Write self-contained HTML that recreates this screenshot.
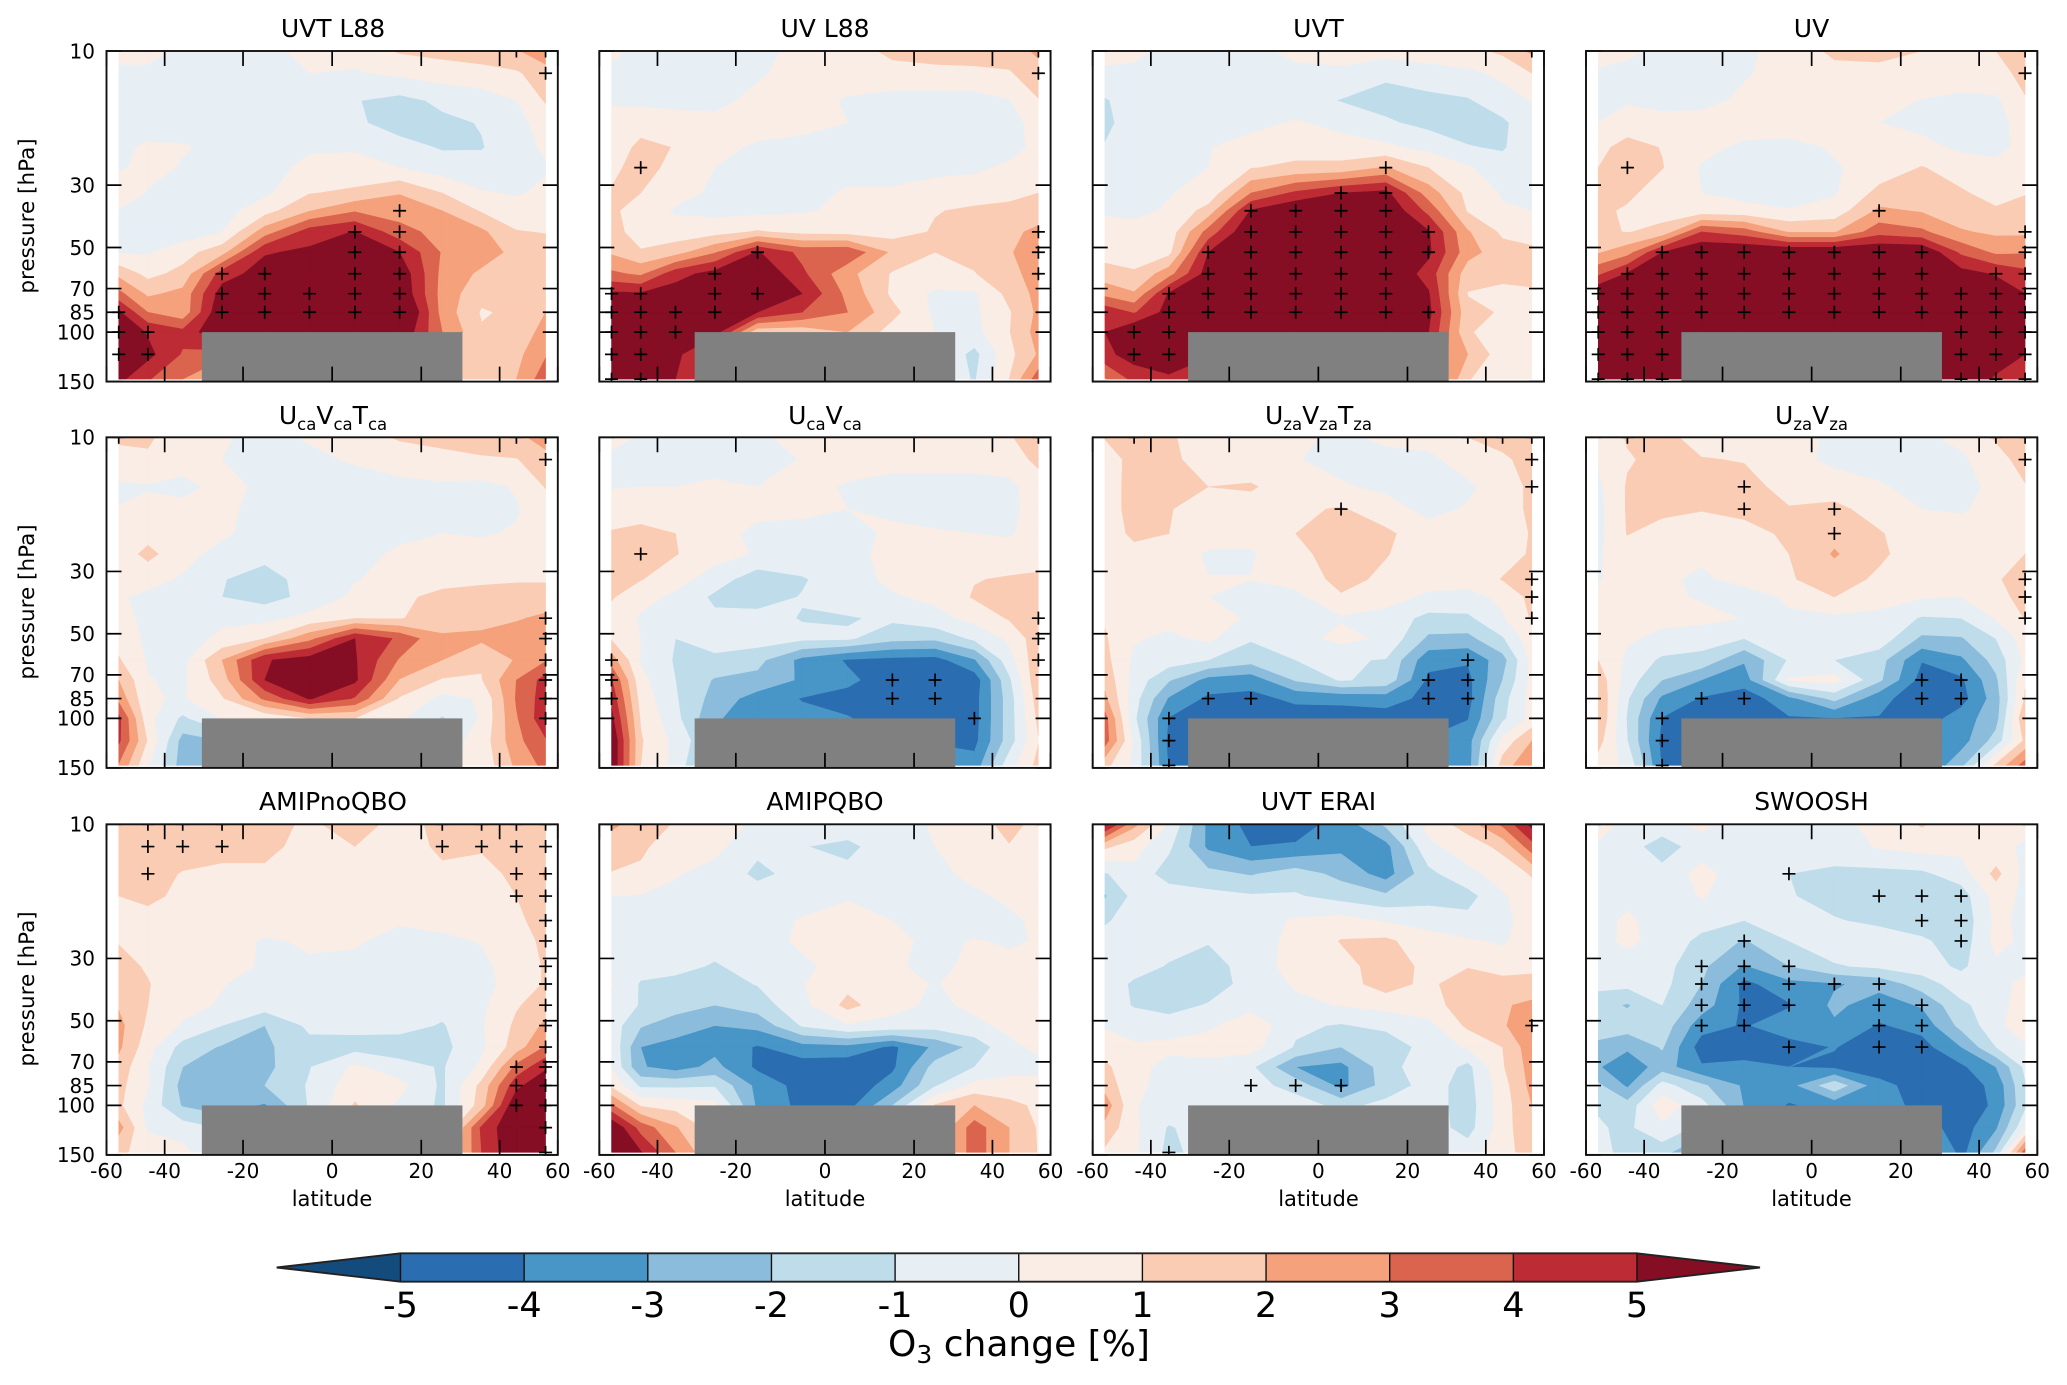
<!DOCTYPE html>
<html lang="en">
<head>
<meta charset="utf-8">
<title>O3 change panels</title>
<style>
html,body{margin:0;padding:0;background:#fff;}
svg{display:block;}
text{font-family:"DejaVu Sans","Liberation Sans",sans-serif;fill:#000;}
</style>
</head>
<body>
<svg id="fig" xmlns="http://www.w3.org/2000/svg" width="2067" height="1385" viewBox="0 0 2067 1385">
<rect x="0" y="0" width="2067" height="1385" fill="#fff"/>
<g id="panels"></g>
<g font-size="25" text-anchor="middle">
<text x="333" y="37">UVT L88</text>
<text x="825" y="37">UV L88</text>
<text x="1318.5" y="37">UVT</text>
<text x="1811.5" y="37">UV</text>
<text x="333" y="424">U<tspan font-size="16.5" dy="6">ca</tspan><tspan dy="-6">V</tspan><tspan font-size="16.5" dy="6">ca</tspan><tspan dy="-6">T</tspan><tspan font-size="16.5" dy="6">ca</tspan></text>
<text x="825" y="424">U<tspan font-size="16.5" dy="6">ca</tspan><tspan dy="-6">V</tspan><tspan font-size="16.5" dy="6">ca</tspan></text>
<text x="1318.5" y="424">U<tspan font-size="16.5" dy="6">za</tspan><tspan dy="-6">V</tspan><tspan font-size="16.5" dy="6">za</tspan><tspan dy="-6">T</tspan><tspan font-size="16.5" dy="6">za</tspan></text>
<text x="1811.5" y="424">U<tspan font-size="16.5" dy="6">za</tspan><tspan dy="-6">V</tspan><tspan font-size="16.5" dy="6">za</tspan></text>
<text x="333" y="810">AMIPnoQBO</text>
<text x="825" y="810">AMIPQBO</text>
<text x="1318.5" y="810">UVT ERAI</text>
<text x="1811.5" y="810">SWOOSH</text>
</g>
<g font-size="21" text-anchor="middle">
<text transform="translate(34,216) rotate(-90)" font-size="21.5">pressure [hPa]</text>
<text transform="translate(34,602) rotate(-90)" font-size="21.5">pressure [hPa]</text>
<text transform="translate(34,989) rotate(-90)" font-size="21.5">pressure [hPa]</text>
<text x="332" y="1206">latitude</text>
<text x="825" y="1206">latitude</text>
<text x="1318.5" y="1206">latitude</text>
<text x="1811.5" y="1206">latitude</text>
</g>
<g id="colorbar"></g>
<text x="1019" y="1356" font-size="36" text-anchor="middle">O<tspan font-size="25" dy="7">3</tspan><tspan dy="-7"> change [%]</tspan></text>
</svg>
<script>
const latitudes = [-55,-45,-35,-25,-15,-5,5,15,25,35,45,55];
const pressureLevels = [10,12,15,18,22,26,32,37,44,52,62,73,85,100,120,147];
const xTickValues = [-60,-40,-20,0,20,40,60];
const yTickValues = [10,30,50,70,85,100,150];
const contourLevels = [-5,-4,-3,-2,-1,0,1,2,3,4,5];
const bandColors = ["#134b7d","#2a6eb1","#4895c7","#8bbcdc","#bfdcea","#e7eff5","#f9ede5","#fbccb4","#f4a17c","#db644f","#bd2b34","#850e24"];

const uvtL88 = [
[0.3,0.3,-0.2,-0.3,-0.3,0.3,0.4,1.1,1.3,1.5,1.9,2.6],
[-0.2,-0.2,-0.4,-0.4,-0.4,0,-0.1,0.2,0.5,0.65,0.85,1.6],
[-0.4,-0.5,-0.5,-0.5,-0.6,-0.6,-0.95,-1.3,-0.8,-0.5,0,1.1],
[-0.6,-0.7,-0.6,-0.6,-0.6,-0.7,-0.8,-1.5,-1.2,-0.95,-0.3,0.4],
[-0.3,0.2,0.1,-0.3,-0.5,-0.1,-0.1,-0.6,-1.1,-1.05,-0.5,0.2],
[-0.2,0.4,-0.1,-0.3,-0.3,0.2,0.3,0,-0.5,-0.7,-0.5,-0.1],
[0.95,-0.1,-0.3,-0.3,-0.2,0.95,1.2,1.95,1,0.1,-0.1,0.2],
[-0.1,-0.6,-0.6,-0.4,0.6,1.95,2.9,2.5,2,0.9,0.45,0.5],
[-0.1,-0.7,-0.6,0,2.5,4.5,5.05,3.4,2.6,2.2,1.05,0.95],
[-0.1,-0.1,0.6,1.6,4.9,5.2,6,5,2.9,2.5,1.7,1.5],
[1.7,0.7,1.3,4.5,5.5,6,7,5.8,2.7,1.8,1.5,1.4],
[3.3,1.8,2.3,5.5,6,7,7,6,2.6,1.3,1.3,1.3],
[5.2,3,2.3,6,7,7,7,7,2.6,0.9,1.2,2],
[6,4.9,4.3,6,7,7,7,6,3,1.1,1.3,2.4],
[7,5.3,3.9,3.5,4,5,5,4,2,1.2,1.7,2.9],
[5.3,4.1,3,1.1,1,1,1,1,1.2,1.05,2,3.6]];
const uvL88 = [
[0.2,-0.2,-0.3,-0.3,-0.2,0.2,0.6,1.2,1.3,1.4,1.5,2.2],
[-0.2,-0.4,-0.4,-0.4,-0.1,0.3,0.5,0.7,0.8,0.8,0.9,1.6],
[-0.1,-0.2,-0.3,-0.2,0.2,0.4,-0.1,-0.4,-0.5,-0.4,-0.05,0.95],
[0.3,0.5,0.4,0.2,0.3,0.3,0,-0.4,-0.5,-0.5,-0.4,0.4],
[0.3,1.3,0.95,0.2,-0.1,-0.3,-0.3,-0.4,-0.5,-0.5,-0.4,0.3],
[0.7,1.5,0.6,0,-0.3,-0.3,-0.3,-0.3,-0.2,-0.2,0.2,0.3],
[1.1,1,0.3,-0.15,-0.3,-0.3,0.1,0.1,0.3,0.6,0.8,1],
[1.2,0.5,-0.1,-0.3,-0.3,-0.1,0.2,0.4,0.95,1.15,1.2,1.3],
[1.4,0.5,0.4,0.6,1.1,0.7,0.6,0.55,1.1,1.4,1.7,2.3],
[1.85,1.1,1.6,2.9,5.1,3.7,3.8,1.8,1,1.3,1.9,2.6],
[3.2,2.8,4.6,5.4,6,4.2,2.3,0.9,0.8,0.95,1.7,2.4],
[5.2,5.1,5.5,6,6,5,2.7,0.8,-0.2,-0.15,1.3,2.3],
[6,6,6,6,5,4,3,1.3,-0.2,-0.2,0.9,2.2],
[6,6,6,5.5,1.3,1.3,2,0.6,0,-0.3,0.95,2.4],
[6,6,5.4,3,1,1,1,0.5,0,-1.3,0.7,2.1],
[6,6,5,4,0.9,0.5,0.5,0.3,-0.1,-1.1,1,3.6]];
const uvt = [
[0.2,0.2,-0.2,-0.3,-0.2,0.2,0.4,0.4,0.5,0.7,1.2,2.2],
[-0.1,-0.2,-0.3,-0.4,-0.4,-0.2,-0.2,-0.8,-0.4,-0.2,0.2,1],
[-1.1,-0.5,-0.5,-0.5,-0.5,-0.6,-1.05,-1.4,-1.3,-1.1,-0.4,0.05],
[-1.2,-0.6,-0.5,-0.4,-0.3,0.1,-0.3,-0.85,-1.3,-1.4,-1.2,-0.3],
[-0.95,-0.5,-0.5,-0.05,0.4,0.6,0.4,0.2,-0.3,-0.95,-1.1,-0.4],
[-0.5,-0.4,-0.3,0,0.95,1.2,1.3,2.1,1,0.1,-0.6,-0.4],
[-0.4,-0.5,-0.05,0.3,3,4.2,5,5.3,2.5,0.7,-0.1,-0.3],
[-0.1,-0.2,0.1,1.4,5.1,6,6,6,3.7,0.9,0.1,0],
[0.3,0.3,0.4,3.4,6,6,6,6,5.1,2.1,0.8,0.6],
[0.6,0.6,0.7,5,6,6,6,6,5.2,2.4,1.4,1.2],
[1.4,1.1,2.6,5.5,6,6,6,6,4.6,1.4,1.1,1.1],
[2.7,2.1,5.1,6,6,6,6,6,5.1,0.95,0.9,0.95],
[4.7,3.9,5.4,6,6,6,6,6,5.3,1.3,0.9,0.8],
[5,6,5.5,6,6,6,6,6,5,1.1,0.5,0.7],
[4.7,5.5,5.4,5.3,6,6,6,6,4,2,0.4,0.5],
[2.9,4.3,4.9,3,4,5,5,5,4.5,1.1,0,0.3]];
const uvOnly = [
[0.3,0.2,-0.2,-0.3,-0.2,0.4,1.2,1.2,1,1,1,1.5],
[-0.1,-0.3,-0.4,-0.4,-0.1,0.4,0.7,0.8,0.8,0.7,0.75,1.2],
[-0.2,-0.1,-0.4,-0.3,0.2,0.4,0.5,0.4,-0.05,-0.3,-0.2,0.95],
[0,0.4,0.4,0.4,0.5,0.5,0.4,0,-0.3,-0.4,-0.4,0.5],
[0.7,1.4,0.95,0.3,-0.2,-0.3,0.1,0.5,0.3,-0.2,-0.3,0.3],
[1,1.5,1.05,-0.1,-0.4,-0.4,-0.1,0.4,1.05,0.6,0.3,0.4],
[1.3,1.3,0.3,0,-0.3,-0.4,-0.1,1.3,1.5,1.1,0.7,0.95],
[1.3,0.8,0.6,0.4,0.3,0.05,0.4,2.2,1.9,1.4,1.1,1.3],
[1.2,0.95,1.3,4,3.5,1.9,1.9,3.6,3.2,2.1,1.8,1.8],
[1.9,2.6,5,6,6,6,6,6,6,3.8,2.8,2.9],
[3.8,5.1,6,6,6,6,6,6,6,5.4,4.9,4.3],
[6,6,6,6,6,6,6,6,6,6,5.7,5],
[7,7,7,7,7,7,7,7,7,6,6,6],
[7,7,7,7,7,7,7,7,7,6,6,6],
[7,7,7,7,7,7,7,7,7,6,5.4,5],
[6,6,6,6,5,5,5,5,5,5.5,4.9,4.2]];
const ucaVcaTca = [
[1.1,1.1,0.6,0.1,-0.3,0.1,0.6,1.1,1.2,1.4,1.7,2.5],
[0.8,0.9,0.45,0,-0.2,-0.2,0.1,0.5,0.8,0.9,0.95,1.6],
[-0.2,-0.1,-0.3,0.3,-0.2,-0.3,-0.4,-0.3,-0.2,-0.3,0.1,1.05],
[0.05,0.3,0.3,0.2,-0.3,-0.4,-0.5,-0.5,-0.5,-0.4,-0.1,0.6],
[0.3,0.6,0.4,0.15,-0.4,-0.5,-0.4,-0.3,0,-0.1,0.1,0.5],
[0.4,1.3,0.3,-0.3,-0.7,-0.5,-0.4,0.2,0.4,0.4,0.4,0.5],
[0.4,0.3,-0.1,-0.95,-1.4,-0.6,-0.05,0.3,0.5,0.8,0.9,0.9],
[0.1,-0.2,-0.3,-1,-1.4,-0.7,0.2,0.7,1.4,1.4,1.4,1.4],
[0.4,-0.3,-0.3,-0.2,-0.3,0.3,0.95,0.9,1.7,1.7,1.9,2.2],
[0.6,-0.2,-0.4,0.2,1,2.7,5,3.8,2.1,2.2,2.5,2.6],
[1.1,-0.1,-0.3,2,4.9,5.5,5.1,2.9,2,1.1,2.1,2.9],
[2,0.05,-0.2,1.5,5,5.9,5.2,1.95,0.9,0.95,3,4.4],
[2.7,0.1,-0.1,0.9,3.2,5.1,3.9,0.9,-0.3,0.1,3.1,4.5],
[4.3,0.3,-1.2,0.1,0.2,1,1,0.2,-1.1,0.1,2.9,4.7],
[4.2,0.9,-2.4,-2,0,0,0,0,-0.5,0.4,2.7,3.9],
[2.9,0.1,-2.5,-3.2,-2,0,0,0,-0.3,0.3,2.2,3.3]];
const ucaVca = [
[0.3,-0.1,-0.3,-0.3,-0.1,0.2,0.4,0.5,0.5,0.6,0.9,1.6],
[-0.2,-0.4,-0.4,-0.5,-0.4,0.05,0.4,0.4,0.5,0.5,0.6,1.2],
[-0.05,0,0,0.2,0,0.3,-0.1,-0.4,-0.5,-0.5,-0.3,0.6],
[0.4,0.5,0.5,0.4,0.2,0.2,0,-0.1,-0.4,-0.5,-0.3,0.5],
[1.1,1.3,1,0.3,-0.2,-0.3,-0.2,0.1,0.1,0,-0.1,0.4],
[1.2,1.4,1.05,0.4,-0.1,-0.3,-0.3,0.3,0.4,0.4,0.4,0.5],
[1.3,1.05,0.4,-0.5,-1.6,-1.1,-0.4,0.2,0.6,0.95,1.1,1.2],
[1.1,0.3,-0.2,-1.2,-1.4,-0.95,-0.3,-0.1,0.2,1.1,1.3,1.3],
[0.6,-0.1,-0.4,-0.8,-0.7,-1.05,-1.1,-0.8,-0.3,0.3,1.1,1.7],
[0.9,0,-1,-0.6,-0.5,-0.8,-0.85,-1.7,-1.8,-0.8,0.2,1.6],
[2.5,-0.1,-1.1,-1.2,-1.7,-3.3,-4.1,-4.3,-4.4,-3.1,-0.4,1.7],
[4.1,0.3,-1,-2.1,-2.3,-3.15,-3.8,-4.5,-4.6,-4.6,-1.2,1.8],
[4.7,0.6,-0.9,-2.4,-3.45,-4.05,-4.3,-4.5,-4.6,-4.4,-1.5,1.5],
[5.3,0.9,-0.7,-2.9,-3.45,-3.75,-3.95,-4.4,-4.6,-4.4,-1.5,1.2],
[6,1.1,-0.3,-2.1,-3.25,-3.5,-4.1,-4.1,-4.1,-4.3,-1.5,0.95],
[6,1,-0.3,-3.1,-3.5,-3.5,-3.5,-3.5,-3.5,-3.6,-0.4,1.3]];
const uzaVzaTza = [
[1.05,1.3,1.1,0.6,0.4,0.2,-0.2,0.2,0.5,1,1.2,1.3],
[0.55,1.3,1.2,0.6,0.4,0.05,-0.3,-0.3,-0.3,0.6,0.9,1.2],
[0.6,1.3,1.3,1,1.1,0.5,0.1,-0.2,-0.4,-0.2,0.5,1.2],
[0.6,1.3,1.05,0.6,0.6,0.8,1.1,0.4,-0.3,0.1,0.5,1.2],
[0.5,1.2,1,0.4,0.3,1,1.6,1.2,0.4,0.4,0.6,1.05],
[0.3,0.7,0.4,-0.1,-0.1,0.7,1.5,1.05,0.5,0.5,0.6,1.1],
[0.2,0.3,0.2,0.02,0.02,0.4,1.3,0.8,0.4,0.4,1.05,1.4],
[0.1,0.2,0.2,0,-0.4,-0.3,0.9,0.4,-0.2,-0.3,0.2,1.3],
[0.9,0.3,0.3,0.3,-0.1,-0.3,-0.1,-0.4,-1.3,-1.2,-0.1,1.1],
[1.1,0.1,-0.2,0.2,-0.9,-0.4,0.3,-0.2,-2.2,-2.3,-1.1,0.6],
[1.3,-0.2,-0.5,-1,-1.6,-1,-0.9,-1.05,-3.7,-3.9,-2.4,0.3],
[1.7,-0.4,-1.9,-3.35,-3.6,-1.9,-0.9,-1.3,-4.2,-4.3,-2,0.3],
[2.2,-0.6,-3.1,-4.2,-4.3,-3.8,-3.75,-3.55,-4.3,-4.4,-1.4,0.4],
[3.4,-0.8,-4.05,-4.5,-4.5,-4.5,-4.5,-4.5,-4.5,-4.05,-1.2,0.3],
[3.5,-0.2,-4.3,-4.8,-4.8,-4.8,-4.8,-4.8,-3.9,-3.45,0.3,2],
[1.3,-0.2,-4.1,-4.8,-4.8,-4.8,-4.8,-4.8,-4,-3.5,1.5,2.9]];
const uzaVza = [
[0.2,1.1,1.3,0.6,0.3,0.2,-0.1,-0.3,-0.2,0.3,1.1,1.5],
[0.1,0.9,1.3,1.05,0.95,0.3,-0.2,-0.4,-0.5,-0.2,0.7,1.3],
[-0.2,1.1,1.4,1.3,1.3,0.7,0.4,0.1,-0.3,-0.4,0.3,0.95],
[-0.3,1.1,1.3,1.05,1.3,1.05,1.3,0.5,0,-0.1,0.3,0.5],
[-0.3,1.05,0.5,0.5,0.6,1.2,1.7,1.1,0.3,0.4,0.5,0.7],
[-0.1,0.5,0.3,0.1,0.4,1,2.1,1.2,0.4,0.4,0.5,1],
[-0.05,0.3,0.1,-0.1,0.2,0.9,1.5,0.8,0.4,0.5,0.9,1.4],
[0.3,0.3,0.2,-0.1,-0.3,0.1,1,0.3,0.1,0,0.7,1.3],
[0.4,0.2,0.2,0.3,-0.05,-0.1,-0.2,-0.2,-1.1,-1,0.1,1.05],
[0.6,0.1,-0.2,-0.6,-1,-0.5,-0.3,-0.4,-2.2,-2.1,-1,0.5],
[1,-0.2,-1.2,-1.3,-2.9,-0.9,-1,-1.6,-3.95,-3.2,-1.6,0.2],
[1.6,-0.5,-2,-3,-3.5,0.1,0.4,-1.8,-4.4,-4.2,-2.2,0.9],
[1.9,-0.9,-3.2,-4.1,-4.6,-3.3,-1.7,-3.7,-4.6,-4.4,-2.5,1.1],
[1.9,-1.1,-4.05,-4.7,-4.4,-4.1,-4.05,-4.05,-4.6,-3.5,-2.4,1.9],
[1.4,-1,-4.3,-4.3,-4.1,-4.1,-4.1,-4.1,-4.1,-3.45,-1.6,1.2],
[0.5,-0.2,-4.1,-4.3,-4.1,-4.1,-4.1,-4.1,-4.1,-2.3,1.2,3.5]];
const amipNoQbo = [
[1.3,1.4,1.4,1.4,1.4,0.8,1.5,0.6,1.3,1.4,1.4,1.5],
[1.2,1.5,1.4,1.3,1.3,0.6,1,0.5,1.2,1.1,1.3,1.5],
[1.1,1.3,0.95,0.8,0.8,0.6,0.6,0.5,0.8,0.7,1.2,2.1],
[1,1.2,0.8,0.7,0.6,0.5,0.5,0.4,0.4,0.5,1,1.7],
[0.8,0.7,0.6,0.5,0.5,0.3,0.3,0.1,0.3,0.4,0.8,1.4],
[0.95,0.7,0.5,0.4,-0.1,0.1,0.1,-0.3,-0.2,0.05,0.6,1.2],
[1.3,0.9,0.4,0.3,-0.1,-0.1,-0.2,-0.4,-0.5,-0.2,0.4,1.1],
[1.6,1.05,0.4,0.05,-0.4,-0.4,-0.5,-0.5,-0.5,-0.3,0.4,1.1],
[1.9,1,0.3,-0.1,-0.5,-0.5,-0.6,-0.6,-0.6,-0.2,0.9,1.5],
[2.3,0.8,-0.1,-1,-2,-0.8,-0.7,-0.6,-1.1,-0.1,1.2,2.2],
[2.2,0.4,-1.4,-2.1,-2.2,-1.3,-1.4,-1.6,-1.3,-0.2,1.5,3.1],
[1.6,0.05,-2,-2.4,-2.3,-1.05,0.2,-0.6,-1.1,0.2,3.3,4.8],
[1.3,0.1,-2.4,-2.5,-2,-0.9,0.6,0.3,-1.2,1.3,4.7,6],
[1.2,-0.3,-2.1,-2.6,-3.1,-0.9,1.1,-0.2,-1.2,1.5,6,6.5],
[2.4,-0.2,-0.5,-1.1,-1,-0.5,0,0,-0.5,4.2,6,6],
[1.1,0.8,0.3,-1,-1,-0.5,0,0,0,4,6,6]];
const amipQbo = [
[2.2,1.6,0.9,0.5,-0.2,-0.3,-0.3,-0.4,0.1,0.6,1.3,0.7],
[1.5,1.2,0.4,0.3,-0.8,-0.95,-1.3,-0.3,0,0.4,0.95,0.6],
[0.95,0.8,0.1,-0.4,-1.2,-0.7,-0.7,-0.5,-0.3,0.3,0.5,0.6],
[0,-0.05,-0.3,-0.5,-0.6,-0.6,-0.1,-0.5,-0.4,-0.2,0.2,0.4],
[-0.4,-0.4,-0.5,-0.5,-0.5,0.1,0.4,0,-0.4,-0.4,-0.2,0.2],
[-0.4,-0.5,-0.5,-0.6,-0.5,0.2,0.5,0.2,-0.2,0.05,-0.1,0.05],
[-0.1,-0.6,-0.7,-1.1,-0.6,-0.2,0.4,0.2,-0.4,0.4,0.2,0.2],
[0.05,-1.1,-1.3,-1.4,-0.95,-0.05,0.7,0.3,-0.05,0.3,0.4,0.3],
[-0.1,-1.1,-1.5,-2,-1.5,-0.3,1.3,0.3,-0.2,0.2,0.3,0.3],
[-0.5,-1.9,-2.6,-3,-2.7,-0.9,-0.1,-0.3,-0.6,-0.2,0.2,0.2],
[-0.2,-3,-3.3,-3.3,-4.1,-3.4,-3.3,-4.2,-2.8,-1.7,-0.2,0.2],
[-0.05,-2.9,-3.45,-2.7,-4.2,-4.5,-4.7,-4.2,-1.6,-1,-0.3,-0.3],
[0.8,-1.2,-1.2,-1.1,-3.3,-4.4,-4.8,-3.5,-1.1,0.3,0.3,0.3],
[3.2,0.9,0.6,0.3,-3.2,-4.3,-4.4,-2,1.1,2,1.3,0.8],
[6,3.6,2.1,0.5,0,0,0,0,1,3.5,2,0.9],
[6.5,5.1,3,1,0,0,0,0,1,3.5,2,0.95]];
const uvtErai = [
[5.3,2.3,-0.1,-3.25,-4.3,-4.4,-3.65,-1.8,0.3,1.5,3.2,5.3],
[1.2,0.4,-0.8,-3.2,-4,-3.9,-3.25,-3.35,-0.2,0.4,1.3,3.6],
[-1.1,-0.3,-1.5,-1.7,-2.1,-1.5,-2.3,-3.45,-1.3,-0.2,0.3,1.1],
[-2.1,-0.7,-0.4,-0.7,-0.9,-0.9,-1.4,-1.8,-1.4,-1.4,-0.1,0.5],
[-1.2,-0.3,-0.5,-0.6,-0.4,0.1,0.4,-0.1,-0.4,-0.7,-0.3,0.5],
[-0.4,-0.3,-0.5,-0.9,-0.5,0.3,1.05,1.2,0.4,0.1,-0.1,0.4],
[-0.3,-0.5,-1.1,-1.6,-0.4,0.3,0.7,1.4,0.8,0.9,0.4,0.7],
[-0.3,-1.2,-1.7,-1.7,-0.5,0.1,0.5,1.5,0.7,1.8,1.5,1.4],
[-0.3,-1.1,-1.5,-0.9,-0.4,-0.2,0.05,0.3,0.6,1.5,1.9,2.2],
[-0.1,-0.3,-0.4,-0.2,0.7,-0.8,-1.1,-0.7,-0.3,1.2,1.9,2.6],
[0.5,0.1,0.2,0.5,0.4,-1.1,-2,-1.8,-0.5,0.1,1,2.6],
[1.2,0.3,-0.3,-0.4,-0.8,-3,-3.3,-1.5,-0.2,-1.3,0.9,2.4],
[1.6,0.2,-0.3,-0.7,-0.6,-1.4,-3.3,-1.6,-0.6,-1.4,0.6,2.3],
[2.6,0.05,-0.3,-0.4,-0.4,-0.5,-1.3,-0.7,-0.5,-1.5,0.5,2],
[1.7,0.2,-1.1,-0.5,-0.4,-0.4,-0.4,-0.4,-0.5,-1.4,0.5,1.9],
[0.8,0.2,-1.3,-0.5,-0.4,-0.4,-0.4,-0.4,-0.3,-0.5,0.6,1.5]];
const swoosh = [
[0.3,-0.2,-0.3,0.2,-0.3,-0.3,-0.2,0.2,1.1,0.4,0.3,0.2],
[-0.1,-0.5,-1.6,-0.4,-0.5,-0.6,-0.5,0.1,0.4,0.3,0.2,-0.1],
[-0.3,-0.5,-0.6,0.3,-0.5,-1,-1.2,-1.3,-1.2,-0.5,1.3,-0.3],
[-0.5,-0.3,-0.7,0.1,-0.6,-0.9,-1.5,-1.6,-1.6,-1.5,0.4,-0.2],
[-0.4,0.2,-0.5,-0.7,-1,-0.5,-0.9,-1.3,-1.7,-1.7,0.2,-0.2],
[-0.5,0.3,-0.5,-1.2,-2.1,-1,-0.4,-0.3,-0.8,-1.6,0.3,-0.2],
[-0.6,-0.6,-0.6,-1.8,-3.1,-2,-1.1,-0.8,-0.5,-1.2,-0.2,-0.3],
[-0.7,-0.7,-0.7,-2,-4.3,-3.3,-3.1,-2.7,-1.5,-0.5,-0.4,0.3],
[-1.6,-2.1,-1,-2.5,-4.2,-4.1,-2.8,-3.45,-2.9,-1.2,-0.5,0.6],
[-1.2,-1.5,-1.4,-3.6,-4.1,-3.4,-3.15,-4.1,-3.65,-1.7,-0.4,0.9],
[-2.4,-2.8,-1.9,-4.5,-4.4,-4.4,-3.95,-4.6,-4.4,-3,-1,-0.2],
[-2.9,-3.75,-2.5,-3.9,-3.8,-4,-4.2,-4.6,-4.6,-4.2,-3,-0.8],
[-1.8,-3.15,-0.6,-1.8,-3.15,-3.4,-1.3,-3.65,-4.5,-4.6,-3.7,-1.1],
[-1.1,-1.6,0.6,-0.6,-3.05,-4.1,-3.65,-3.7,-4.2,-4.7,-3.8,-1.2],
[-0.9,-1.2,-0.2,-1.3,-3,-3,-3,-3,-3.5,-4.5,-3.15,-0.2],
[-0.9,-1.1,-1.6,-3.3,-3,-3,-3,-3,-1.5,-4.4,-1.8,3.6]];

/* significance markers: each entry is [pressure, latitudes...] */
const sigUvtL88 = [[10,45,55],[12,55],[37,15],[44,5,15],[52,5,15],[62,-25,-15,5,15],[73,-25,-15,-5,5,15],[85,-55,-25,-15,-5,5,15],[100,-55,-45],[120,-55,-45]];
const sigUvL88 = [[10,55],[12,55],[26,-45],[44,55],[52,-15,55],[62,-25,55],[73,-55,-45,-25,-15],[85,-55,-45,-35,-25],[100,-55,-45,-35],[120,-55,-45],[147,-55,-45]];
const sigUvt = [[10,55],[26,15],[32,5,15],[37,-15,-5,5,15],[44,-15,-5,5,15,25],[52,-25,-15,-5,5,15,25],[62,-25,-15,-5,5,15],[73,-35,-25,-15,-5,5,15],[85,-35,-25,-15,-5,5,15,25],[100,-45,-35],[120,-45,-35]];
const sigUv = [[10,55],[12,55],[26,-45],[37,15],[44,55],[52,-35,-25,-15,-5,5,15,25,55],[62,-45,-35,-25,-15,-5,5,15,25,45,55],[73,-55,-45,-35,-25,-15,-5,5,15,25,35,45,55],[85,-55,-45,-35,-25,-15,-5,5,15,25,35,45,55],[100,-55,-45,-35,35,45,55],[120,-55,-45,-35,35,45,55],[147,-55,-45,-35,35,45,55]];
const sigUcaVcaTca = [[10,-55,45,55],[12,55],[44,55],[52,55],[62,55],[73,55],[85,55],[100,55]];
const sigUcaVca = [[10,55],[26,-45],[44,55],[52,55],[62,-55,55],[73,-55,15,25],[85,-55,15,25],[100,35]];
const sigUzaVzaTza = [[10,-45,35,45,55],[12,55],[15,55],[18,5],[32,55],[37,55],[44,55],[62,35],[73,25,35],[85,-25,-15,25,35],[100,-35],[120,-35],[147,-35]];
const sigUzaVza = [[10,-45,45,55],[12,55],[15,-15],[18,-15,5],[22,5],[32,55],[37,55],[44,55],[73,25,35],[85,-25,-15,25,35],[100,-35],[120,-35],[147,-35]];
const sigAmipNoQbo = [[10,-45,-35,-25,25,35,45,55],[12,-45,-35,-25,25,35,45,55],[15,-45,45,55],[18,45,55],[22,55],[26,55],[32,55],[37,55],[44,55],[52,55],[62,55],[73,45,55],[85,45,55],[100,45,55],[120,55],[147,55]];
const sigAmipQbo = [[10,-55,-45]];
const sigUvtErai = [[52,55],[85,-15,-5,5],[147,-35]];
const sigSwoosh = [[15,-5],[18,15,25,35],[22,25,35],[26,-15,35],[32,-25,-15,-5],[37,-25,-15,-5,5,15],[44,-25,-15,-5,15,25],[52,-25,-15,15,25],[62,-5,15,25]];

const panelValues = [uvtL88,uvL88,uvt,uvOnly,ucaVcaTca,ucaVca,uzaVzaTza,uzaVza,amipNoQbo,amipQbo,uvtErai,swoosh];
const panelSignificance = [sigUvtL88,sigUvL88,sigUvt,sigUv,sigUcaVcaTca,sigUcaVca,sigUzaVzaTza,sigUzaVza,sigAmipNoQbo,sigAmipQbo,sigUvtErai,sigSwoosh];

const NS = "http://www.w3.org/2000/svg";
const panelLefts = [106.5,599.3,1092.7,1586];
const panelTops = [51,437.3,824.3];
const panelW = 451.3, panelH = 330.6;
const tickLen = 15;

function make(tag, attrs, parent){
  const el = document.createElementNS(NS, tag);
  for (const k in attrs) el.setAttribute(k, attrs[k]);
  parent.appendChild(el);
  return el;
}
function clipPoly(poly, f){
  const out = [];
  for (let i = 0; i < poly.length; i++){
    const a = poly[i], b = poly[(i+1)%poly.length];
    const fa = f(a[2]), fb = f(b[2]);
    if (fa >= 0) out.push(a);
    if ((fa >= 0) !== (fb >= 0)){
      const t = fa/(fa-fb);
      out.push([a[0]+t*(b[0]-a[0]), a[1]+t*(b[1]-a[1]), a[2]+t*(b[2]-a[2])]);
    }
  }
  return out;
}
function bandPath(grid, xs, ys, lo, hi){
  let d = "";
  for (let j = 0; j < ys.length-1; j++){
    for (let i = 0; i < xs.length-1; i++){
      let p = [[xs[i],ys[j],grid[j][i]],[xs[i+1],ys[j],grid[j][i+1]],[xs[i+1],ys[j+1],grid[j+1][i+1]],[xs[i],ys[j+1],grid[j+1][i]]];
      if (lo !== null) p = clipPoly(p, v => v-lo);
      if (p.length && hi !== null) p = clipPoly(p, v => hi-v);
      if (p.length > 2){
        d += "M" + p.map(q => q[0].toFixed(2)+" "+q[1].toFixed(2)).join("L") + "Z";
      }
    }
  }
  return d;
}

const root = document.getElementById("panels");
const defs = make("defs", {}, root);

panelValues.forEach(function(grid, idx){
  const col = idx % 4, row = Math.floor(idx/4);
  const left = panelLefts[col], top = panelTops[row];
  const xOf = lat => left + panelW*(0.5 + Math.sin(lat*Math.PI/180)/(2*Math.sin(Math.PI/3)));
  const yOf = p => top + panelH*Math.log10(p/10)/Math.log10(15);
  const xs = latitudes.map(xOf), ys = pressureLevels.map(yOf);

  const g = make("g", {}, root);
  
  

  const cp = make("clipPath", {id:"clip"+idx}, defs);
  make("rect", {x:left, y:top, width:panelW, height:panelH}, cp);

  bandColors.forEach(function(color, b){
    const lo = b === 0 ? null : contourLevels[b-1];
    const hi = b === bandColors.length-1 ? null : contourLevels[b];
    const d = bandPath(grid, xs, ys, lo, hi);
    if (!d) return;
    const band = make("path", {d:d, fill:color, stroke:color, "stroke-width":0.5, "stroke-linejoin":"round"}, g);
    
    
  });

  const box = make("rect", {x:xOf(-30), y:yOf(100), width:xOf(30)-xOf(-30), height:top+panelH-yOf(100), fill:"#808080"}, g);
  
  

  const marks = make("g", {"clip-path":"url(#clip"+idx+")", stroke:"#000", "stroke-width":1.7}, g);
  
  
  panelSignificance[idx].forEach(function(entry){
    const y = yOf(entry[0]);
    entry.slice(1).forEach(function(lat){
      const x = xOf(lat);
      const plus = make("path", {d:"M"+(x-6.5)+" "+y+"H"+(x+6.5)+"M"+x+" "+(y-6.5)+"V"+(y+6.5), fill:"none"}, marks);
      
      
    });
  });

  xTickValues.forEach(function(v){
    const x = xOf(v);
    const tick = make("path", {d:"M"+x+" "+top+"v"+tickLen+"M"+x+" "+(top+panelH)+"v"+(-tickLen), stroke:"#000", "stroke-width":1.7, fill:"none"}, g);
    
    
    if (row === 2){
      const t = make("text", {x:x, y:top+panelH+23, "font-size":20, "text-anchor":"middle"}, g);
      t.textContent = String(v);
      
      
    }
  });
  yTickValues.forEach(function(v){
    const y = yOf(v);
    const tick = make("path", {d:"M"+left+" "+y+"h"+tickLen+"M"+(left+panelW)+" "+y+"h"+(-tickLen), stroke:"#000", "stroke-width":1.7, fill:"none"}, g);
    
    
    if (col === 0){
      const t = make("text", {x:left-11.5, y:y+7.3, "font-size":20, "text-anchor":"end"}, g);
      t.textContent = String(v);
      
      
    }
  });

  const frame = make("rect", {x:left, y:top, width:panelW, height:panelH, fill:"none", stroke:"#111", "stroke-width":1.9}, g);
  
  
});

/* colorbar */
const cb = document.getElementById("colorbar");
const cbLeft = 400.5, cbRight = 1637, cbTop = 1253.3, cbBottom = 1281.7, cbMid = (cbTop+cbBottom)/2, cbTipL = 276.7, cbTipR = 1760;
const cbX = v => cbLeft + (v-contourLevels[0])/(contourLevels[contourLevels.length-1]-contourLevels[0])*(cbRight-cbLeft);

const lowTip = make("polygon", {points:cbTipL+","+cbMid+" "+cbLeft+","+cbTop+" "+cbLeft+","+cbBottom, fill:bandColors[0]}, cb);


const highTip = make("polygon", {points:cbTipR+","+cbMid+" "+cbRight+","+cbTop+" "+cbRight+","+cbBottom, fill:bandColors[bandColors.length-1]}, cb);



for (let i = 0; i < contourLevels.length-1; i++){
  const seg = make("rect", {x:cbX(contourLevels[i]), y:cbTop, width:cbX(contourLevels[i+1])-cbX(contourLevels[i]), height:cbBottom-cbTop, fill:bandColors[i+1]}, cb);
  
  
}
contourLevels.forEach(function(v){
  const x = cbX(v);
  const div = make("line", {x1:x, x2:x, y1:cbTop, y2:cbBottom, stroke:"#111", "stroke-width":1.4}, cb);
  
  
  const t = make("text", {x:x, y:1317, "font-size":35, "text-anchor":"middle"}, cb);
  t.textContent = String(v);
  
  
});
const outline = make("polygon", {points:[[cbTipL,cbMid],[cbLeft,cbTop],[cbRight,cbTop],[cbTipR,cbMid],[cbRight,cbBottom],[cbLeft,cbBottom]].map(p=>p.join(",")).join(" "), fill:"none", stroke:"#222", "stroke-width":1.9}, cb);


</script>
</body>
</html>
